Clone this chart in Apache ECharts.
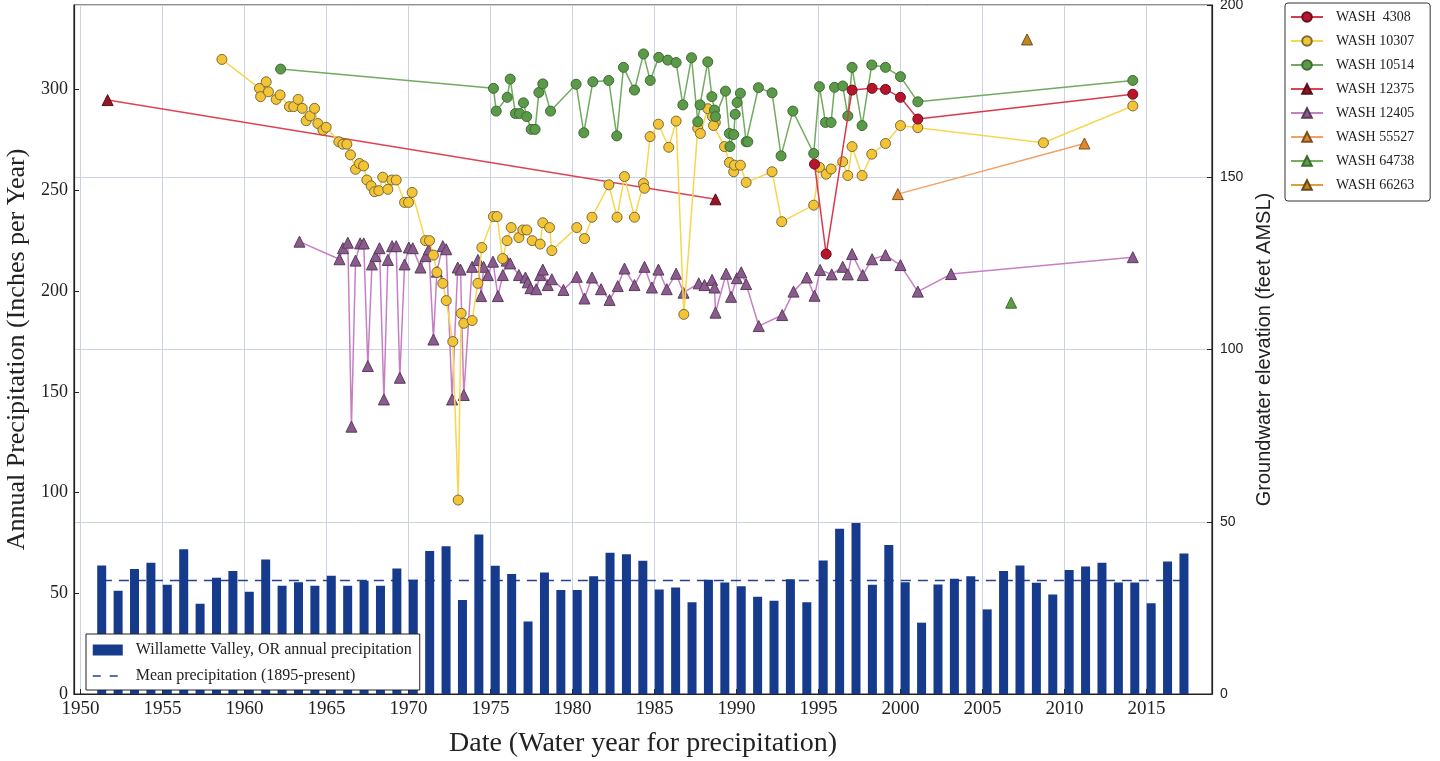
<!doctype html>
<html>
<head>
<meta charset="utf-8">
<title></title>
<script src="https://cdn.jsdelivr.net/npm/echarts@6/dist/echarts.min.js"></script>
<style>
	html, body { margin: 0; padding: 0; background: #fff; }
	#main { width: 1440px; height: 761px; }
</style>
</head>
<body>
<div id="main"></div>
<script type="text/javascript">
	// annual precipitation, Willamette Valley (inches), water years
	var precipYears = [1951, 1952, 1953, 1954, 1955, 1956, 1957, 1958, 1959, 1960,
		1961, 1962, 1963, 1964, 1965, 1966, 1967, 1968, 1969, 1970,
		1971, 1972, 1973, 1974, 1975, 1976, 1977, 1978, 1979, 1980,
		1981, 1982, 1983, 1984, 1985, 1986, 1987, 1988, 1989, 1990,
		1991, 1992, 1993, 1994, 1995, 1996, 1997, 1998, 1999, 2000,
		2001, 2002, 2003, 2004, 2005, 2006, 2007, 2008, 2009, 2010,
		2011, 2012, 2013, 2014, 2015, 2016, 2017];
	var precipValues = [63.8, 51.2, 62.1, 65.1, 54.2, 71.9, 44.8, 57.7, 61.0, 50.7,
		66.8, 53.7, 55.5, 53.7, 58.7, 53.7, 56.2, 53.7, 62.3, 56.7,
		71.0, 73.4, 46.6, 79.2, 63.6, 59.6, 36.0, 60.3, 51.6, 51.6,
		58.5, 70.1, 69.4, 66.1, 51.9, 52.9, 45.5, 56.7, 55.4, 53.5,
		48.3, 46.3, 56.9, 45.6, 66.3, 82.0, 84.9, 54.2, 73.9, 55.5,
		35.4, 54.4, 57.2, 58.5, 42.0, 61.0, 63.8, 55.2, 49.4, 61.6,
		63.3, 65.1, 55.4, 55.4, 45.0, 65.8, 69.8];
	var meanPrecip = 56.4;
	var meanSpan = [1951.3, 2017.3];

	// groundwater elevation (feet AMSL): [decimal year, elevation]
	var wash4308 = [[1994.76, 153.8], [1995.47, 127.7], [1997.05, 175.3], [1998.27, 175.8], [1999.09, 175.5],
		[2000.0, 173.2], [2001.06, 166.9], [2014.17, 174.1]];
	var wash10307 = [[1958.62, 184.2], [1960.91, 175.8], [1960.98, 173.4], [1961.32, 177.7], [1961.46, 174.8],
		[1961.93, 172.6], [1962.17, 173.9], [1962.74, 170.5], [1963.0, 170.5], [1963.27, 172.6], [1963.52, 170.0],
		[1963.76, 166.4], [1964.0, 167.8], [1964.27, 170.0], [1964.47, 165.6], [1964.78, 163.7], [1964.98, 164.5],
		[1965.75, 160.3], [1966.0, 159.6], [1966.24, 159.6], [1966.46, 156.5], [1966.77, 152.3], [1967.01, 154.0],
		[1967.26, 153.3], [1967.46, 149.2], [1967.72, 147.5], [1967.93, 145.8], [1968.19, 146.1], [1968.43, 150.0],
		[1968.74, 146.5], [1968.98, 149.2], [1969.25, 149.2], [1969.76, 142.7], [1970.0, 142.7], [1970.22, 145.6],
		[1971.04, 131.6], [1971.28, 131.6], [1971.52, 127.4], [1971.73, 122.4], [1972.09, 119.2], [1972.3, 114.2],
		[1972.7, 102.3], [1973.03, 56.3], [1973.21, 110.5], [1973.37, 107.6], [1973.88, 108.4], [1974.23, 119.2],
		[1974.47, 129.6], [1975.18, 138.6], [1975.4, 138.6], [1975.74, 126.4], [1976.01, 131.6], [1976.26, 135.4],
		[1976.73, 132.5], [1976.97, 134.7], [1977.21, 134.7], [1977.54, 131.6], [1978.03, 130.6], [1978.19, 136.8],
		[1978.6, 135.4], [1978.74, 128.7], [1980.26, 135.4], [1980.73, 132.2], [1981.19, 138.4], [1982.22, 147.8],
		[1982.72, 138.4], [1983.17, 150.2], [1983.78, 138.4], [1984.33, 148.2], [1984.39, 146.8], [1984.73, 161.8],
		[1985.24, 165.4], [1985.87, 158.7], [1986.32, 166.3], [1986.79, 110.2], [1987.64, 164.2], [1987.8, 162.7],
		[1988.25, 169.9], [1988.54, 167.6], [1988.71, 165.9], [1988.6, 165.0], [1989.27, 158.9], [1989.57, 154.3],
		[1989.83, 151.6], [1989.88, 153.5], [1990.24, 153.5], [1990.59, 148.5], [1992.17, 151.6], [1992.76, 137.1],
		[1994.71, 141.9], [1995.06, 152.9], [1995.47, 150.9], [1995.77, 152.4], [1996.48, 154.5], [1996.79, 150.5],
		[1997.05, 158.9], [1997.66, 150.5], [1998.25, 156.7], [1999.09, 159.8], [2000.0, 165.0], [2001.06, 164.4],
		[2008.72, 160.0], [2014.17, 170.7]];
	var wash10514 = [[1962.2, 181.4], [1975.18, 175.8], [1975.35, 169.2], [1976.02, 173.2], [1976.2, 178.5],
		[1976.52, 168.5], [1976.77, 168.5], [1977.01, 171.6], [1977.21, 167.6], [1977.48, 163.9], [1977.72, 163.9],
		[1977.95, 174.6], [1978.19, 177.1], [1978.66, 169.2], [1980.22, 177.0], [1980.69, 162.9], [1981.24, 177.7],
		[1982.21, 178.1], [1982.7, 162.0], [1983.11, 181.9], [1983.78, 175.3], [1984.33, 185.8], [1984.74, 178.1],
		[1985.26, 184.8], [1985.81, 184.0], [1986.32, 183.3], [1986.73, 171.0], [1987.26, 184.7], [1987.64, 166.1],
		[1987.78, 171.0], [1988.25, 183.5], [1988.5, 173.4], [1988.66, 169.5], [1988.72, 167.6], [1989.33, 175.0],
		[1989.57, 162.7], [1989.6, 158.9], [1989.83, 162.4], [1989.92, 168.3], [1990.04, 171.7], [1990.24, 174.4],
		[1990.59, 160.3], [1990.69, 160.3], [1991.34, 176.0], [1992.17, 174.5], [1992.72, 156.2], [1993.44, 169.2],
		[1994.71, 156.9], [1995.06, 176.3], [1995.43, 165.9], [1995.77, 165.9], [1995.98, 176.1], [1996.48, 176.5],
		[1996.79, 167.8], [1997.05, 181.9], [1997.66, 165.0], [1998.25, 182.6], [1999.09, 181.9], [2000.0, 179.2],
		[2001.06, 171.9], [2014.17, 178.1]];
	var wash12375 = [[1951.65, 172.4], [1988.72, 143.6]];
	var wash12405 = [[1963.35, 131.3], [1965.79, 126.2], [1966.0, 129.4], [1966.3, 131.0], [1966.52, 77.6],
		[1966.77, 125.8], [1967.05, 130.8], [1967.27, 130.8], [1967.52, 95.2], [1967.77, 124.7], [1967.99, 127.1],
		[1968.23, 129.4], [1968.5, 85.5], [1968.74, 126.0], [1969.0, 130.0], [1969.25, 130.0], [1969.47, 91.8],
		[1969.76, 124.7], [1970.02, 129.6], [1970.26, 129.4], [1970.73, 123.8], [1971.04, 127.1], [1971.24, 129.1],
		[1971.52, 102.9], [1971.73, 122.6], [1972.09, 130.0], [1972.3, 129.1], [1972.66, 85.5], [1973.0, 123.8],
		[1973.17, 123.2], [1973.37, 86.8], [1973.88, 124.0], [1974.23, 126.0], [1974.43, 115.5], [1974.58, 124.0],
		[1974.84, 121.6], [1975.15, 125.5], [1975.45, 115.5], [1975.75, 121.6], [1975.99, 125.8], [1976.2, 125.0],
		[1976.73, 121.6], [1977.13, 120.9], [1977.27, 119.5], [1977.44, 117.8], [1977.79, 117.5], [1978.03, 121.6],
		[1978.19, 123.2], [1978.49, 118.7], [1978.74, 120.4], [1979.45, 117.3], [1980.26, 121.1], [1980.73, 114.8],
		[1981.19, 120.9], [1981.74, 117.5], [1982.26, 114.4], [1982.76, 118.4], [1983.17, 123.5], [1983.78, 118.7],
		[1984.39, 124.0], [1984.84, 118.0], [1985.24, 123.2], [1985.75, 117.5], [1986.32, 122.0], [1986.77, 116.5],
		[1987.7, 119.2], [1988.05, 118.7], [1988.51, 120.2], [1988.66, 118.0], [1988.72, 110.7], [1989.37, 122.0],
		[1989.67, 115.3], [1990.02, 120.7], [1990.29, 122.4], [1990.59, 119.0], [1991.36, 106.8], [1992.79, 110.0],
		[1993.48, 116.8], [1994.29, 120.9], [1994.76, 115.6], [1995.1, 123.1], [1995.81, 121.8], [1996.48, 124.0],
		[1996.79, 121.8], [1997.05, 127.7], [1997.7, 121.6], [1998.27, 126.2], [1999.09, 127.4], [2000.0, 124.5],
		[2001.06, 116.8], [2003.09, 121.9], [2014.17, 126.8]];
	var wash55527 = [[1999.84, 145.1], [2011.22, 159.8]];
	var wash64738 = [[2006.75, 113.6]];
	var wash66263 = [[2007.72, 190.0]];

	var wellNames = ['WASH  4308', 'WASH 10307', 'WASH 10514', 'WASH 12375', 'WASH 12405', 'WASH 55527', 'WASH 64738', 'WASH 66263'];
	var precipName = 'Willamette Valley, OR annual precipitation';
	var meanName = 'Mean precipitation (1895-present)';

	var serif = '"Liberation Serif", "DejaVu Serif", serif';
	var sans = '"Liberation Sans", Arial, sans-serif';

	// bars are drawn from the start of each water year, so shift them a bit to the right
	var barShift = 0.29;
	var barData = precipYears.map(function(y, i) {
		return [y + barShift, precipValues[i]];
	});

	function well(name, data, symbol, fill, line, edge, z) {
		return {
			name: name,
			type: 'line',
			yAxisIndex: 1,
			data: data,
			symbol: symbol,
			symbolSize: symbol === 'circle' ? 10 : 11,
			showSymbol: true,
			z: z,
			lineStyle: { color: line, width: 1.5 },
			itemStyle: { color: fill, borderColor: edge, borderWidth: 1 }
		};
	}

	var myChart = echarts.init(document.getElementById('main'));

	var option = {
		animation: false,
		backgroundColor: '#fff',
		grid: {
			left: 74, right: 228, top: 5, bottom: 67,
			outerBoundsMode: 'none',
			show: true, borderColor: '#222', borderWidth: 1.2
		},
		legend: [{
			data: wellNames,
			orient: 'vertical',
			left: 1285, top: 3,
			itemWidth: 32, itemHeight: 12, itemGap: 10,
			padding: [7, 16, 9, 5],
			backgroundColor: '#fff',
			borderColor: '#333', borderWidth: 1, borderRadius: 3,
			textStyle: { fontFamily: serif, fontSize: 14, color: '#222', padding: [0, 0, 0, 8] }
		}, {
			data: [
				{ name: precipName, icon: 'rect' },
				{ name: meanName, itemStyle: { opacity: 0 }, lineStyle: { type: [8, 9], width: 1.5 } }
			],
			orient: 'vertical',
			left: 86, top: 634,
			itemWidth: 30, itemHeight: 11, itemGap: 10,
			padding: [8, 8, 6, 6],
			backgroundColor: '#fff',
			borderColor: '#222', borderWidth: 1,
			textStyle: { fontFamily: serif, fontSize: 16, color: '#222', padding: [0, 0, 0, 8] }
		}],
		xAxis: {
			type: 'value', min: 1949.6, max: 2019, splitNumber: 14,
			name: 'Date (Water year for precipitation)',
			nameLocation: 'middle', nameGap: 36,
			nameTextStyle: { fontFamily: serif, fontSize: 28, color: '#222' },
			axisLine: { lineStyle: { color: '#222', width: 1.2 } },
			axisTick: { inside: true, length: 5, lineStyle: { color: '#222' } },
			axisLabel: {
				showMinLabel: false, showMaxLabel: false,
				fontFamily: serif, fontSize: 19, color: '#222', margin: 6,
				formatter: function(v) { return v % 5 === 0 ? String(v) : ''; }
			},
			splitLine: { show: true, lineStyle: { color: '#cdd2e3', width: 1 } }
		},
		yAxis: [{
			type: 'value', min: 0, max: 342, interval: 50, position: 'left',
			name: 'Annual Precipitation (Inches per Year)',
			nameLocation: 'middle', nameGap: 40, nameRotate: 90,
			nameTextStyle: { fontFamily: serif, fontSize: 26, color: '#222' },
			axisLine: { show: true, lineStyle: { color: '#222', width: 1.2 } },
			axisTick: { show: true, inside: true, length: 5, lineStyle: { color: '#222' } },
			axisLabel: {
				showMaxLabel: false, fontFamily: serif, fontSize: 18, color: '#222', margin: 6,
				formatter: function(v) { return v % 50 === 0 ? String(v) : ''; }
			},
			splitLine: { show: false }
		}, {
			type: 'value', min: 0, max: 200, interval: 50, position: 'right',
			name: 'Groundwater elevation (feet AMSL)',
			nameLocation: 'middle', nameGap: 22, nameRotate: 90,
			nameTextStyle: { fontFamily: sans, fontSize: 20, color: '#222' },
			axisLine: { show: true, lineStyle: { color: '#222', width: 1.2 } },
			axisTick: { show: true, inside: true, length: 5, lineStyle: { color: '#222' } },
			axisLabel: { fontFamily: sans, fontSize: 14, color: '#222', margin: 8 },
			splitLine: { show: true, lineStyle: { color: '#cdd2e3', width: 1 } }
		}],
		series: [{
			name: meanName,
			type: 'line',
			yAxisIndex: 0,
			data: [[meanSpan[0], meanPrecip], [meanSpan[1], meanPrecip]],
			symbol: 'none',
			z: 1,
			lineStyle: { color: '#24408f', width: 1.5, type: [10, 7] },
			itemStyle: { color: '#24408f' }
		}, {
			name: precipName,
			type: 'bar',
			yAxisIndex: 0,
			data: barData,
			barWidth: 9,
			z: 2,
			itemStyle: { color: '#163a8c' }
		},
		well(wellNames[4], wash12405, 'triangle', '#8a5b8d', '#c77fc4', '#5a3a5c', 3),
		well(wellNames[3], wash12375, 'triangle', '#951426', '#dd4455', '#5a1018', 3),
		well(wellNames[1], wash10307, 'circle', '#f3c436', '#f7d650', '#7a6a36', 4),
		well(wellNames[2], wash10514, 'circle', '#5a9a48', '#72aa60', '#3f6a32', 5),
		well(wellNames[0], wash4308, 'circle', '#b8142c', '#d93a4b', '#6a1020', 6),
		well(wellNames[5], wash55527, 'triangle', '#e0892c', '#f2a066', '#7a5020', 4),
		well(wellNames[6], wash64738, 'triangle', '#5aa042', '#72b05a', '#3f6a32', 4),
		well(wellNames[7], wash66263, 'triangle', '#c28620', '#d8a040', '#6a4a18', 4)
		]
	};

	myChart.setOption(option);
</script>
</body>
</html>
